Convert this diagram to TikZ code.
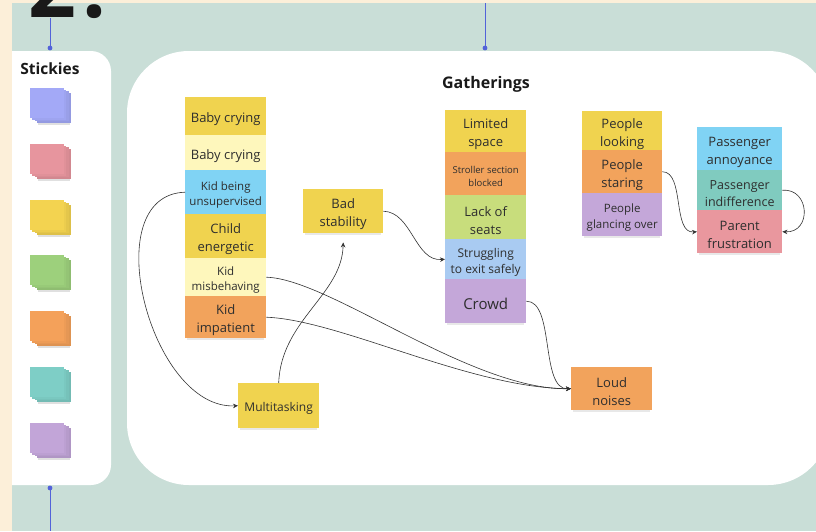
\documentclass[tikz,border=0pt]{standalone}
\usepackage{fontspec}
\setmainfont{Open Sans}
\usetikzlibrary{arrows.meta,shadows}
\definecolor{cream}{HTML}{FCEFD9}
\definecolor{sage}{HTML}{C9DED7}
\definecolor{linkblue}{HTML}{5262D9}
\definecolor{linec}{HTML}{333333}
\definecolor{ntext}{HTML}{2E2E2E}
\definecolor{cyel}{HTML}{F0D34F}
\definecolor{clyel}{HTML}{FEF7BC}
\definecolor{cblue}{HTML}{80D3F4}
\definecolor{cblue2}{HTML}{A9CBF2}
\definecolor{corange}{HTML}{F2A35C}
\definecolor{cgreen}{HTML}{C8DD7C}
\definecolor{cpurple}{HTML}{C4A7D9}
\definecolor{cteal}{HTML}{80CBBF}
\definecolor{cpink}{HTML}{E9979E}
\definecolor{pblue}{HTML}{A3A9F7}
\definecolor{ppink}{HTML}{E7959E}
\definecolor{pyel}{HTML}{F3D350}
\definecolor{pgreen}{HTML}{9DD07C}
\definecolor{porange}{HTML}{F4A15A}
\definecolor{pteal}{HTML}{7ECEC6}
\definecolor{ppurple}{HTML}{C2A5D8}
\newcommand\lift[1]{\rule{0pt}{#1}}
\tikzset{
  note/.style={anchor=north west, minimum width=81pt, inner sep=1pt, align=center,
    text=ntext, drop shadow={shadow xshift=0pt, shadow yshift=-3pt, opacity=.18, shadow scale=0.95}},
  fa/.style={font=\fontsize{13}{18}\selectfont},
  fb/.style={font=\fontsize{11.5}{15.5}\selectfont},
  fc/.style={font=\fontsize{9.5}{13}\selectfont},
  fd/.style={font=\fontsize{12}{16.5}\selectfont},
  ff/.style={font=\fontsize{12.5}{17}\selectfont},
  fe/.style={font=\fontsize{15}{18}\selectfont},
  conn/.style={draw=linec, line width=0.6pt, -{Stealth[length=5pt,width=4.5pt]}},
  bluelink/.style={draw=linkblue, line width=0.7pt},
  title/.style={font=\bfseries, text=black!90, inner sep=0pt}
}
\begin{document}
\begin{tikzpicture}[x=1pt,y=-1pt]
\useasboundingbox (0,0) rectangle (816,531);
% backgrounds
\fill[cream] (0,0) rectangle (816,531);
\fill[sage] (12,3) rectangle (816,531);
\fill[white, rounded corners=20pt] (-20,51) rectangle (111,485);
\fill[cream] (0,0) rectangle (12,531);
\fill[white, rounded corners=62pt] (127,51) rectangle (830,485);
% big 2.
\node[anchor=base west, inner sep=0pt, text=black!90, font=\fontsize{84}{84}\selectfont\bfseries] (two) at (28,17) {2\kern6pt.};
% blue links
\coordinate (d1) at (50,48);
\coordinate (d1t) at (50,18);
\coordinate (d2) at (50,488);
\coordinate (d2b) at (50,531);
\coordinate (d3) at (485,48);
\coordinate (d3t) at (485,3);
\draw[bluelink] (d1t) -- (d1);
\draw[bluelink] (d2) -- (d2b);
\draw[bluelink] (d3t) -- (d3);
\fill[linkblue] (d1) circle (2.4pt) (d2) circle (2.4pt) (d3) circle (2.4pt);
% titles
\node[title, font=\fontsize{15.5}{18}\selectfont\bfseries] (stk) at (50,69) {Stickies};
\node[title, font=\fontsize{16}{19}\selectfont\bfseries] (gat) at (486,84) {Gatherings};
% sticky pads
\foreach \yc/\col in {106/pblue,162/ppink,218/pyel,273/pgreen,329/porange,385/pteal,441/ppurple}{
  \fill[black, opacity=.12] (38,\yc+14) rectangle (70,\yc+19);
  \foreach \i in {3,2,1,0}{
    \fill[\col!\the\numexpr100-3*\i\relax!black] ({30+2.3*\i},{\yc-18+1.7*\i}) rectangle ++(34,30);
  }
}
% column 1
\node[note, fill=cyel, minimum height=38pt, fa] (bc1) at (185,97) {\lift{16.5pt}Baby crying};
\node[note, fill=clyel, minimum height=35pt, fa] (bc2) at (185,135) {\lift{16.5pt}Baby crying};
\node[note, fill=cblue, minimum height=44pt, fb] (kbu) at (185,170) {\lift{14.5pt}Kid being\\unsupervised};
\node[note, fill=cyel, minimum height=44pt, fa] (ce) at (185,214) {\lift{16.5pt}Child\\energetic};
\node[note, fill=clyel, minimum height=38pt, fb] (km) at (185,258) {\lift{14.5pt}Kid\\misbehaving};
\node[note, fill=corange, minimum height=42pt, fa] (ki) at (185,296) {\lift{16.5pt}Kid\\impatient};
\node[note, fill=cyel, minimum width=80pt, minimum height=44pt, fa] (bs) at (303,189) {\lift{16.5pt}Bad\\stability};
\node[note, fill=cyel, minimum height=45pt, fd] (mt) at (238,383) {\lift{15pt}Multitasking};
% column 2
\node[note, fill=cyel, minimum height=42pt, fa] (ls) at (445,110) {\lift{16.5pt}Limited\\space};
\node[note, fill=corange, minimum height=43pt, fc] (ssb) at (445,152) {\lift{12pt}Stroller section\\blocked};
\node[note, fill=cgreen, minimum height=44pt, fa] (los) at (445,195) {\lift{16.5pt}Lack of\\seats};
\node[note, fill=cblue2, minimum height=40pt, fd] (se) at (445,239) {\lift{15pt}Struggling\\to exit safely};
\node[note, fill=cpurple, minimum height=44pt, fe] (cr) at (445,279) {\lift{16pt}Crowd};
% column 3
\node[note, fill=cyel, minimum width=80pt, minimum height=39pt, fa] (pl) at (582,111) {\lift{16.5pt}People\\looking};
\node[note, fill=corange, minimum width=80pt, minimum height=43pt, fa] (ps) at (582,150) {\lift{16.5pt}People\\staring};
\node[note, fill=cpurple, minimum width=80pt, minimum height=43pt, fb] (pg) at (582,193) {\lift{14.5pt}People\\glancing over};
% column 4
\node[note, fill=cblue, minimum width=85pt, minimum height=43pt, fa] (pa) at (697,127) {\lift{16.5pt}Passenger\\annoyance};
\node[note, fill=cteal, minimum width=85pt, minimum height=40pt, ff] (pi) at (697,170) {\lift{15.8pt}Passenger\\indifference};
\node[note, fill=cpink, minimum width=85pt, minimum height=43pt, fa] (pf) at (697,210) {\lift{16.5pt}Parent\\frustration};
% loud noises
\node[note, fill=corange, minimum height=43pt, fa] (ln) at (571,367) {\lift{16.5pt}Loud\\noises};
% connectors
\draw[conn] (kbu.west) .. controls (95,195) and (150,410) .. (mt.west);
\draw[conn] (mt.north) .. controls (281,320) and (342,295) .. ([yshift=-9pt]bs.south);
\draw[conn] (bs.east) .. controls (412,212) and (415,262) .. (se.west);
\draw[conn] (km.east) .. controls (330,279) and (470,390) .. (ln.west);
\draw[conn] (ki.east) .. controls (340,320) and (470,388) .. (ln.west);
\draw[conn] (cr.east) .. controls (555,301) and (540,390) .. (ln.west);
\draw[conn] (ps.east) .. controls (685,172) and (672,234) .. (pf.west);
\draw[conn] (pi.east) .. controls (810,188) and (812,233) .. (pf.east);
\end{tikzpicture}
\end{document}
